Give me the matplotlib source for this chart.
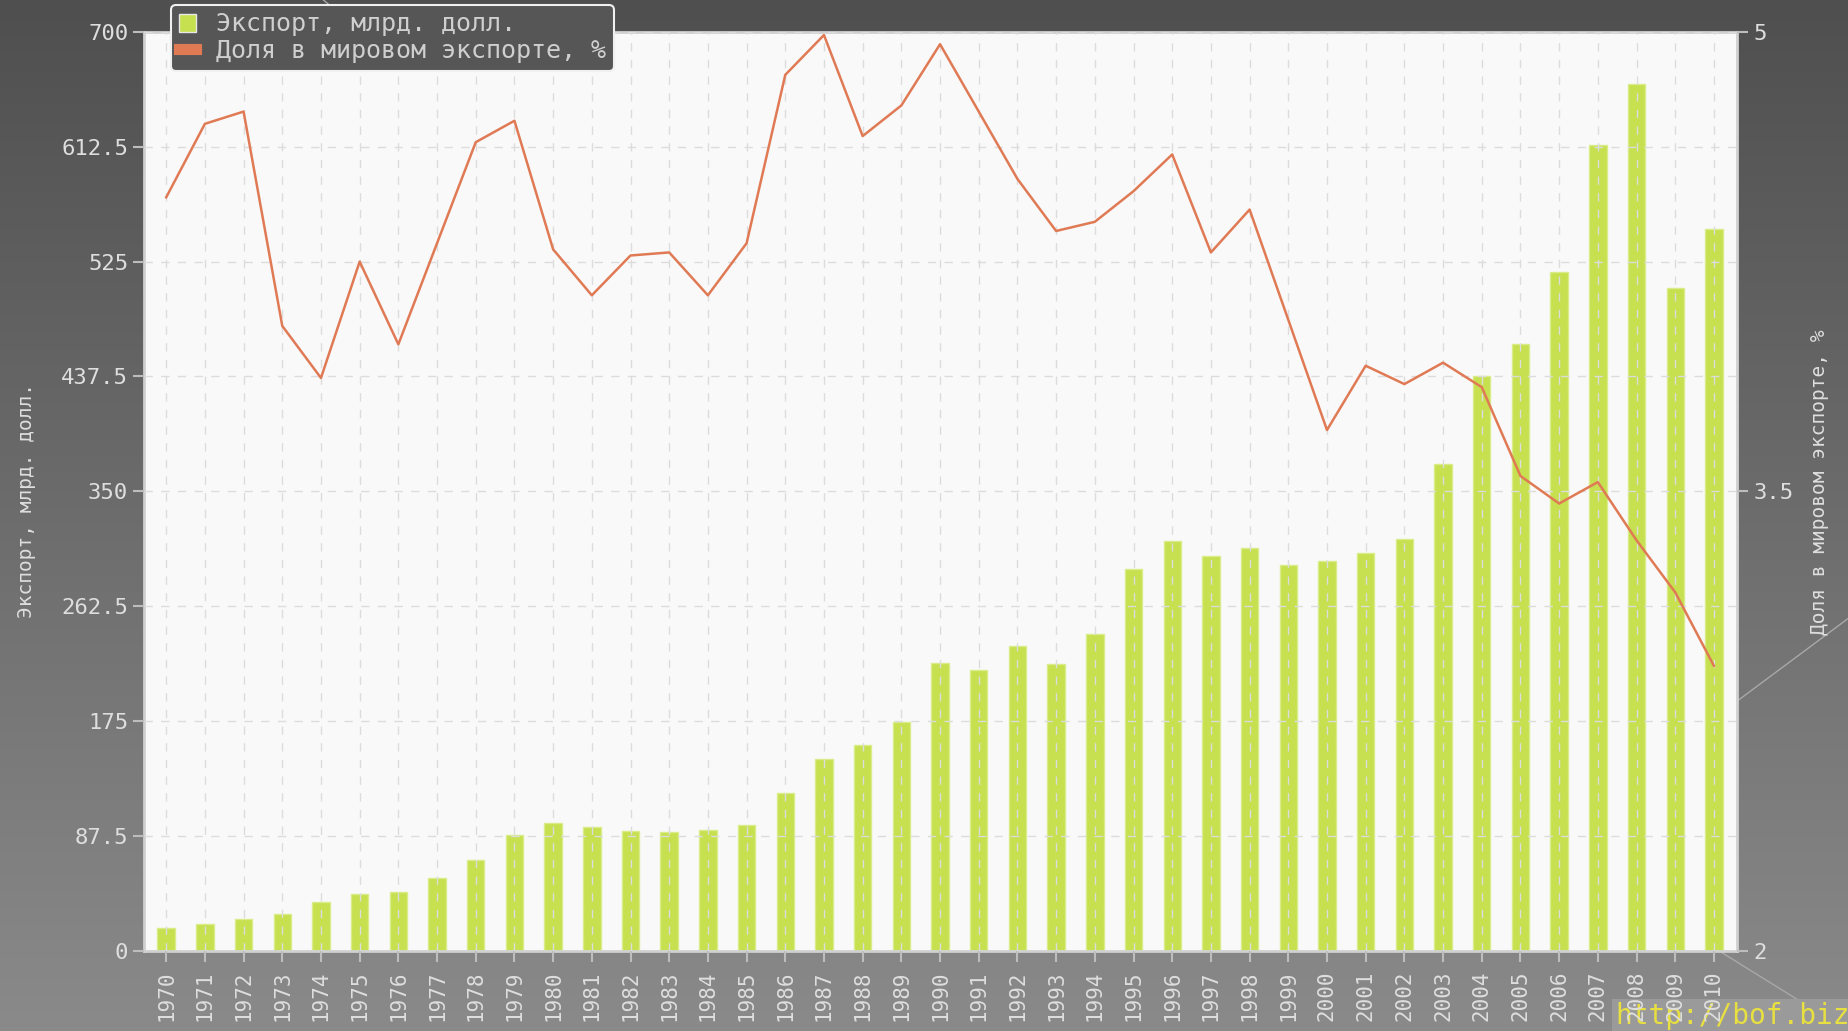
import numpy as np
import matplotlib.pyplot as plt
from matplotlib.patches import Rectangle

years = [str(y) for y in range(1970, 2011)]
export_bln = [17, 20, 24, 28, 37, 43, 45, 55, 69, 88,
              97, 94, 91, 90, 92, 96, 120, 146, 157, 174,
              219, 214, 232, 218, 241, 291, 312, 301, 307, 294,
              297, 303, 314, 371, 438, 462, 517, 614, 660, 505,
              550]
world_share = [4.46, 4.70, 4.74, 4.04, 3.87, 4.25, 3.98, 4.31, 4.64, 4.71,
               4.29, 4.14, 4.27, 4.28, 4.14, 4.31, 4.86, 4.99, 4.66, 4.76,
               4.96, 4.74, 4.52, 4.35, 4.38, 4.48, 4.60, 4.28, 4.42, 4.06,
               3.70, 3.91, 3.85, 3.92, 3.84, 3.55, 3.46, 3.53, 3.34, 3.17,
               2.93]
left_ticks = [0, 87.5, 175, 262.5, 350, 437.5, 525, 612.5, 700]
left_tick_labels = ["0", "87.5", "175", "262.5", "350", "437.5", "525", "612.5", "700"]
right_ticks = [2, 3.5, 5]
right_tick_labels = ["2", "3.5", "5"]

bar_color = "#c6e04f"
line_color = "#e07a55"
label_color = "#dedede"
mono = "DejaVu Sans Mono"

fig = plt.figure(figsize=(18.48, 10.31), dpi=100)

# gradient background (slide)
bg = fig.add_axes([0, 0, 1, 1], zorder=-10)
grad = np.linspace(0, 1, 256).reshape(-1, 1)
bg.imshow(grad, cmap=plt.matplotlib.colors.LinearSegmentedColormap.from_list(
    "bg", ["#4f4f4f", "#8a8a8a"]), aspect="auto", extent=[0, 1, 0, 1], origin="upper")
bg.set_xlim(0, 1)
bg.set_ylim(0, 1)
bg.axis("off")
# thin decorative lines of the slide template
bg.plot([1.0, 0.94], [0.40, 0.32], color="#a8a8a8", lw=1)
bg.plot([0.93, 1.0], [0.078, 0.0], color="#a8a8a8", lw=1)
bg.plot([0.175, 0.215], [1.0, 0.94], color="#a8a8a8", lw=1)

ax = fig.add_axes([0.078, 0.078, 0.862, 0.891])
ax.set_facecolor("#f9f9f9")
x = np.arange(len(years))
bars = ax.bar(x, export_bln, width=0.45, color=bar_color, edgecolor="#d8ec8a",
              linewidth=1, zorder=2, label="Экспорт, млрд. долл.")
ax.set_xlim(-0.57, len(years) - 1 + 0.6)
ax.set_ylim(0, 700)
ax.set_yticks(left_ticks)
ax.set_yticklabels(left_tick_labels, family=mono, fontsize=16, color=label_color)
ax.set_xticks(x)
ax.set_xticklabels(years, rotation=90, family=mono, fontsize=15, color=label_color)
ax.tick_params(axis="both", colors="#bdbdbd", length=8, width=1.5)
ax.tick_params(axis="x", labelcolor=label_color, pad=6)
ax.tick_params(axis="y", labelcolor=label_color)
ax.grid(True, color="#dcdcdc", linestyle=(0, (6, 6)), linewidth=1, zorder=3)
ax.set_axisbelow(False)
for s in ax.spines.values():
    s.set_color("#d0d0d0")
    s.set_linewidth(2)
ax.set_ylabel("Экспорт, млрд. долл.", family=mono, fontsize=14, color=label_color)
ax.yaxis.set_label_coords(-0.068, 0.49)

ax2 = ax.twinx()
ln, = ax2.plot(x, world_share, color=line_color, linewidth=1.8, zorder=4,
               label="Доля в мировом экспорте, %")
ax2.set_ylim(2, 5)
ax2.set_yticks(right_ticks)
ax2.set_yticklabels(right_tick_labels, family=mono, fontsize=16, color=label_color)
ax2.tick_params(axis="y", colors="#bdbdbd", length=8, width=1.5, labelcolor=label_color)
for s in ax2.spines.values():
    s.set_visible(False)
ax2.set_ylabel("Доля в мировом экспорте, %", family=mono, fontsize=14, color=label_color)
ax2.yaxis.set_label_coords(1.046, 0.51)

leg = fig.legend([bars, ln], ["Экспорт, млрд. долл.", "Доля в мировом экспорте, %"],
                 loc="upper left", bbox_to_anchor=(0.090, 1.0),
                 prop={"family": mono, "size": 18}, frameon=True, fancybox=True,
                 handlelength=0.7, handleheight=0.7, handletextpad=0.8,
                 borderpad=0.3, labelspacing=0.1, borderaxespad=0.2)
leg.get_frame().set_facecolor("#565656")
leg.get_frame().set_edgecolor("#f0f0f0")
leg.get_frame().set_alpha(1)
leg.get_frame().set_linewidth(1.5)
leg.set_zorder(10)
for h in leg.legend_handles:
    if isinstance(h, Rectangle):
        h.set_edgecolor("#e8e8e8")
for t in leg.get_texts():
    t.set_color("#cfcfcf")
leg.legend_handles[1].set_linewidth(8)

# site watermark, drawn under the year labels
fig.text(0.874, 0.001, "http://bof.biz", color="#e8e040", fontsize=20,
         family=mono, ha="left", va="bottom", zorder=-1,
         bbox=dict(facecolor="#9a9a9a", edgecolor="none", pad=2))

fig.savefig("out.png", dpi=100)
